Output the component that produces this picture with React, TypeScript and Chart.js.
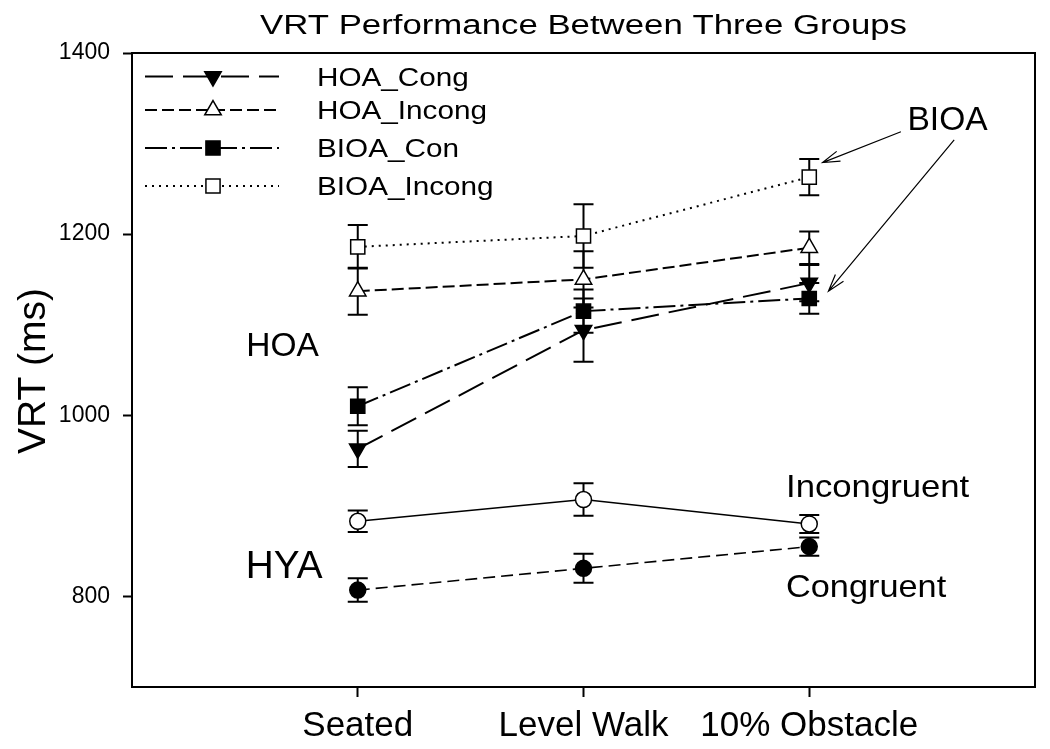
import React, { useEffect, useRef } from 'react';
import { Chart, registerables } from 'chart.js';

Chart.register(...registerables);

// ---------------- data ----------------
const conditions = ['Seated', 'Level Walk', '10% Obstacle'];
const conditionX = [1, 2, 3];
const yTickValues = [800, 1000, 1200, 1400];

const seriesLabels = ['HOA_Cong', 'HOA_Incong', 'BIOA_Con', 'BIOA_Incong', 'HYA_Incong', 'HYA_Cong'];

const hoaCong = [963, 1094, 1146];
const hoaCongErr = [20, 35, 20];

const hoaIncong = [1137, 1150, 1185];
const hoaIncongErr = [26, 31, 18];

const bioaCon = [1010, 1115, 1129];
const bioaConErr = [21, 24, 17];

const bioaIncong = [1186, 1198, 1263];
const bioaIncongErr = [24, 35, 20];

const hyaIncong = [883, 907, 880];
const hyaIncongErr = [12, 18, 10];

const hyaCong = [807, 831, 855];
const hyaCongErr = [13, 16, 10];

// ---------------- styling ----------------
const FONT = '"Liberation Sans", Arial, Helvetica, sans-serif';

type Style = {
  dash: number[];
  point: 'triangle' | 'rect' | 'circle';
  rotation: number;
  radius: number;
  fill: string;
  width: number;
};

const styles: Style[] = [
  { dash: [28, 10], point: 'triangle', rotation: 180, radius: 9.5, fill: '#000', width: 2 },
  { dash: [12, 5], point: 'triangle', rotation: 0, radius: 9.5, fill: '#fff', width: 2 },
  { dash: [22, 5, 3, 5], point: 'rect', rotation: 0, radius: 10, fill: '#000', width: 2 },
  { dash: [2, 5], point: 'rect', rotation: 0, radius: 10, fill: '#fff', width: 2 },
  { dash: [], point: 'circle', rotation: 0, radius: 8, fill: '#fff', width: 1.6 },
  { dash: [12, 6], point: 'circle', rotation: 0, radius: 8, fill: '#000', width: 1.6 },
];

const seriesValues = [hoaCong, hoaIncong, bioaCon, bioaIncong, hyaIncong, hyaCong];
const seriesErrors = [hoaCongErr, hoaIncongErr, bioaConErr, bioaIncongErr, hyaIncongErr, hyaCongErr];

function drawText(
  ctx: CanvasRenderingContext2D,
  text: string,
  x: number,
  y: number,
  size: number,
  sx: number,
  align: CanvasTextAlign = 'left'
) {
  ctx.save();
  ctx.font = `${size}px ${FONT}`;
  ctx.fillStyle = '#000';
  ctx.textAlign = align;
  ctx.textBaseline = 'alphabetic';
  ctx.translate(x, y);
  ctx.scale(sx, 1);
  ctx.fillText(text, 0, 0);
  ctx.restore();
}

function drawMarker(ctx: CanvasRenderingContext2D, s: Style, x: number, y: number) {
  ctx.save();
  ctx.setLineDash([]);
  ctx.lineWidth = 1.5;
  ctx.strokeStyle = '#000';
  ctx.fillStyle = s.fill;
  ctx.beginPath();
  if (s.point === 'triangle') {
    let rad = (s.rotation * Math.PI) / 180;
    for (let k = 0; k < 3; k++) {
      const px = x + Math.sin(rad) * s.radius;
      const py = y - Math.cos(rad) * s.radius;
      if (k === 0) ctx.moveTo(px, py);
      else ctx.lineTo(px, py);
      rad += (2 * Math.PI) / 3;
    }
    ctx.closePath();
  } else if (s.point === 'rect') {
    const h = Math.SQRT1_2 * s.radius;
    ctx.rect(x - h, y - h, 2 * h, 2 * h);
  } else {
    ctx.arc(x, y, s.radius, 0, Math.PI * 2);
  }
  ctx.fill();
  ctx.stroke();
  ctx.restore();
}

function arrow(ctx: CanvasRenderingContext2D, x1: number, y1: number, x2: number, y2: number) {
  const ang = Math.atan2(y2 - y1, x2 - x1);
  const len = 18;
  const spread = (17 * Math.PI) / 180;
  ctx.beginPath();
  ctx.moveTo(x1, y1);
  ctx.lineTo(x2, y2);
  ctx.moveTo(x2 - len * Math.cos(ang - spread), y2 - len * Math.sin(ang - spread));
  ctx.lineTo(x2, y2);
  ctx.lineTo(x2 - len * Math.cos(ang + spread), y2 - len * Math.sin(ang + spread));
  ctx.stroke();
}

const errorBarPlugin = {
  id: 'errorBars',
  beforeDatasetsDraw(chart: any) {
    const ctx: CanvasRenderingContext2D = chart.ctx;
    const xs = chart.scales.x;
    const ys = chart.scales.y;
    ctx.save();
    ctx.strokeStyle = '#000';
    ctx.lineWidth = 2;
    ctx.setLineDash([]);
    seriesValues.forEach((vals, si) => {
      vals.forEach((v, i) => {
        const e = seriesErrors[si][i];
        const px = xs.getPixelForValue(conditionX[i]);
        const top = ys.getPixelForValue(v + e);
        const bot = ys.getPixelForValue(v - e);
        ctx.beginPath();
        ctx.moveTo(px, top);
        ctx.lineTo(px, bot);
        ctx.moveTo(px - 10, top);
        ctx.lineTo(px + 10, top);
        ctx.moveTo(px - 10, bot);
        ctx.lineTo(px + 10, bot);
        ctx.stroke();
      });
    });
    ctx.restore();
  },
};

const decorPlugin = {
  id: 'decor',
  afterDraw(chart: any) {
    const ctx: CanvasRenderingContext2D = chart.ctx;
    const { left, right, top, bottom } = chart.chartArea;
    const xs = chart.scales.x;
    const ys = chart.scales.y;
    ctx.save();

    // frame (top and right sides)
    ctx.strokeStyle = '#000';
    ctx.lineWidth = 2;
    ctx.setLineDash([]);
    ctx.beginPath();
    ctx.moveTo(left, top);
    ctx.lineTo(right, top);
    ctx.lineTo(right, bottom);
    ctx.stroke();

    // title
    drawText(ctx, 'VRT Performance Between Three Groups', (left + right) / 2, top - 19, 28.4, 1.225, 'center');

    // y axis title
    ctx.save();
    ctx.translate(45, (top + bottom) / 2 + 1);
    ctx.rotate(-Math.PI / 2);
    ctx.font = `39px ${FONT}`;
    ctx.fillStyle = '#000';
    ctx.textAlign = 'center';
    ctx.textBaseline = 'alphabetic';
    ctx.fillText('VRT (ms)', 0, 0);
    ctx.restore();

    // legend (first four series)
    const rowOffsets = [23.5, 57, 95, 133];
    for (let i = 0; i < 4; i++) {
      const s = styles[i];
      const y = top + rowOffsets[i];
      ctx.save();
      ctx.strokeStyle = '#000';
      ctx.lineWidth = s.width;
      ctx.setLineDash(s.dash);
      ctx.beginPath();
      ctx.moveTo(left + 13, y);
      ctx.lineTo(left + 147, y);
      ctx.stroke();
      ctx.restore();
      drawMarker(ctx, s, left + 81, y);
      drawText(ctx, seriesLabels[i], left + 185, y + 9, 25.6, 1.16, 'left');
    }

    // group annotations (data coordinates)
    const notes = [
      { text: 'HOA', x: 0.506, y: 1066, size: 33.5, sx: 1.0 },
      { text: 'HYA', x: 0.504, y: 820, size: 39.5, sx: 0.98 },
      { text: 'BIOA', x: 3.435, y: 1315, size: 32.6, sx: 1.03 },
      { text: 'Incongruent', x: 2.897, y: 910, size: 31.7, sx: 1.095 },
      { text: 'Congruent', x: 2.897, y: 799, size: 31.2, sx: 1.1 },
    ];
    notes.forEach((n) => {
      drawText(ctx, n.text, xs.getPixelForValue(n.x), ys.getPixelForValue(n.y), n.size, n.sx, 'left');
    });

    // arrows from BIOA label
    ctx.strokeStyle = '#000';
    ctx.lineWidth = 1.2;
    arrow(ctx, xs.getPixelForValue(3.406), ys.getPixelForValue(1313), xs.getPixelForValue(3.059), ys.getPixelForValue(1279));
    arrow(ctx, xs.getPixelForValue(3.642), ys.getPixelForValue(1304), xs.getPixelForValue(3.085), ys.getPixelForValue(1137));

    ctx.restore();
  },
};

export default function App() {
  const ref = useRef<HTMLCanvasElement>(null);

  useEffect(() => {
    if (!ref.current) return;
    const datasets = seriesValues.map((vals, si) => {
      const s = styles[si];
      return {
        label: seriesLabels[si],
        data: vals.map((v, i) => ({ x: conditionX[i], y: v })),
        borderColor: '#000',
        borderWidth: s.width,
        borderDash: s.dash,
        backgroundColor: s.fill,
        pointStyle: s.point,
        pointRotation: s.rotation,
        pointRadius: s.radius,
        pointHoverRadius: s.radius,
        pointBackgroundColor: s.fill,
        pointBorderColor: '#000',
        pointBorderWidth: 1.5,
        fill: false,
        tension: 0,
        showLine: true,
      };
    });

    const chart = new Chart(ref.current, {
      type: 'line',
      data: { datasets },
      plugins: [errorBarPlugin, decorPlugin],
      options: {
        responsive: false,
        animation: false,
        devicePixelRatio: 1,
        layout: { padding: { left: 0, right: 15, top: 53, bottom: 0 } },
        plugins: {
          legend: { display: false },
          title: { display: false },
          tooltip: { enabled: false },
        },
        scales: {
          x: {
            type: 'linear',
            min: 0,
            max: 4,
            afterBuildTicks: (scale: any) => {
              scale.ticks = conditionX.map((v) => ({ value: v }));
            },
            afterFit: (scale: any) => {
              scale.height = 62;
            },
            ticks: {
              autoSkip: false,
              maxRotation: 0,
              padding: 8,
              color: '#000',
              font: { family: FONT, size: 35 },
              callback: (v: any) => conditions[conditionX.indexOf(Number(v))] ?? '',
            },
            grid: {
              display: true,
              drawOnChartArea: false,
              drawTicks: true,
              tickLength: 10,
              tickWidth: 2,
              tickColor: '#000',
              color: '#000',
            },
            border: { display: true, color: '#000', width: 2 },
          },
          y: {
            type: 'linear',
            min: 700,
            max: 1400,
            afterBuildTicks: (scale: any) => {
              scale.ticks = yTickValues.map((v) => ({ value: v }));
            },
            afterFit: (scale: any) => {
              scale.width = 132;
            },
            ticks: {
              padding: 13,
              color: '#000',
              font: { family: FONT, size: 23 },
              callback: (v: any) => String(v),
            },
            grid: {
              display: true,
              drawOnChartArea: false,
              drawTicks: true,
              tickLength: 9,
              tickWidth: 2,
              tickColor: '#000',
              color: '#000',
            },
            border: { display: true, color: '#000', width: 2 },
          },
        },
      } as any,
    });
    return () => chart.destroy();
  }, []);

  return (
    <div style={{ position: 'absolute', left: 0, top: 0, width: 1050, height: 749, background: '#fff' }}>
      <canvas ref={ref} width={1050} height={749} style={{ display: 'block', width: 1050, height: 749 }} />
    </div>
  );
}
